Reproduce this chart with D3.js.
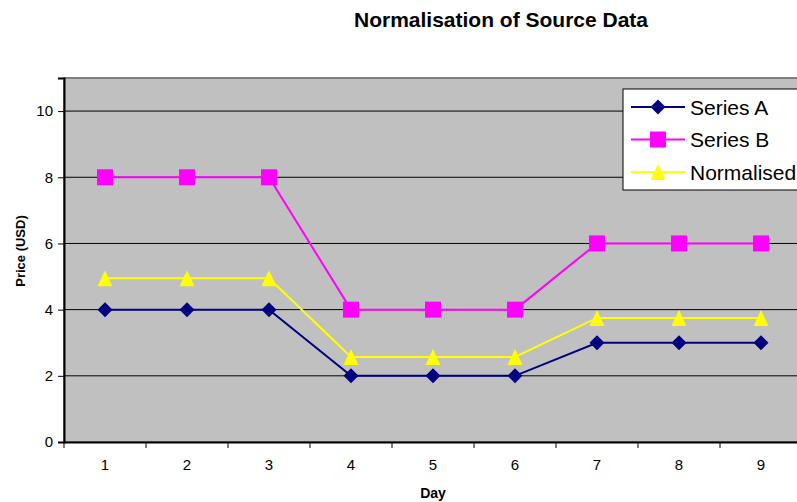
<!DOCTYPE html>
<html>
<head>
<meta charset="utf-8">
<script src="https://cdn.jsdelivr.net/npm/d3@7"></script>
<style>
  body { margin: 0; background: #fff; }
  text { font-family: Arial, "Liberation Sans", sans-serif; }
</style>
</head>
<body>
<script>
// chart data
const days = [1, 2, 3, 4, 5, 6, 7, 8, 9];
const seriesA = [4, 4, 4, 2, 2, 2, 3, 3, 3];
const seriesB = [8, 8, 8, 4, 4, 4, 6, 6, 6];
const normalised = [4.95, 4.95, 4.95, 2.57, 2.57, 2.57, 3.75, 3.75, 3.75];
const yTicks = [0, 2, 4, 6, 8, 10];

const width = 797, height = 502;
const plot = { left: 64, top: 78, right: 802, bottom: 442 };

const svg = d3.select("body").append("svg")
    .attr("width", width)
    .attr("height", height);

const x = d3.scaleBand()
    .domain(days)
    .range([plot.left, plot.right]);

const y = d3.scaleLinear()
    .domain([0, 11])
    .range([plot.bottom, plot.top]);

// plot background
svg.append("rect")
    .attr("x", plot.left)
    .attr("y", plot.top)
    .attr("width", plot.right - plot.left)
    .attr("height", plot.bottom - plot.top)
    .attr("fill", "#c0c0c0")
    .attr("stroke", "#808080")
    .attr("stroke-width", 2);

// gridlines
svg.selectAll(".grid")
    .data(yTicks.filter(d => d > 0))
    .enter().append("line")
    .attr("x1", plot.left)
    .attr("x2", plot.right)
    .attr("y1", d => y(d))
    .attr("y2", d => y(d))
    .attr("stroke", "#000")
    .attr("stroke-width", 1);

// y axis
const yAxis = svg.append("g")
    .attr("transform", `translate(${plot.left},0)`)
    .call(d3.axisLeft(y).tickValues(yTicks).tickSize(6).tickPadding(5));
yAxis.select(".domain").attr("stroke-width", 2);
yAxis.selectAll("text").style("font-size", "15px").attr("fill", "#000");

// x axis: ticks on category boundaries
const xAxis = svg.append("g")
    .attr("transform", `translate(0,${plot.bottom})`)
    .call(d3.axisBottom(x).tickSize(0).tickPadding(17));
xAxis.select(".domain").attr("stroke-width", 2);
xAxis.selectAll("text").style("font-size", "15px").attr("fill", "#000");
xAxis.selectAll(".bound")
    .data(days)
    .enter().append("line")
    .attr("x1", d => x(d))
    .attr("x2", d => x(d))
    .attr("y1", 0)
    .attr("y2", 6)
    .attr("stroke", "#000");

// titles
svg.append("text")
    .attr("x", 501)
    .attr("y", 27)
    .attr("text-anchor", "middle")
    .style("font-size", "21px")
    .style("font-weight", "bold")
    .text("Normalisation of Source Data");

svg.append("text")
    .attr("transform", "translate(25,251) rotate(-90)")
    .attr("text-anchor", "middle")
    .style("font-size", "13px")
    .style("font-weight", "bold")
    .text("Price (USD)");

svg.append("text")
    .attr("x", 433)
    .attr("y", 498)
    .attr("text-anchor", "middle")
    .style("font-size", "14px")
    .style("font-weight", "bold")
    .text("Day");

const cx = d => x(d) + x.bandwidth() / 2;

// marker shapes
const diamond = "M0,-7.5L7.5,0L0,7.5L-7.5,0Z";
const square = "M-8,-8H8V8H-8Z";
const triangle = "M0,-8L7.5,8L-7.5,8Z";

const series = [
    { name: "Series A", values: seriesA, color: "#000080", marker: diamond },
    { name: "Series B", values: seriesB, color: "#ff00ff", marker: square },
    { name: "Normalised", values: normalised, color: "#ffff00", marker: triangle }
];

const line = d3.line()
    .x((d, i) => cx(days[i]))
    .y(d => y(d));

// draw in reverse so Series A sits on top
series.slice().reverse().forEach(s => {
    svg.append("path")
        .datum(s.values)
        .attr("d", line)
        .attr("fill", "none")
        .attr("stroke", s.color)
        .attr("stroke-width", 2);
    svg.selectAll(null)
        .data(s.values)
        .enter().append("path")
        .attr("transform", (d, i) => `translate(${cx(days[i])},${y(d)})`)
        .attr("d", s.marker)
        .attr("fill", s.color);
});

// legend
const legend = svg.append("g");
legend.append("rect")
    .attr("x", 623)
    .attr("y", 89)
    .attr("width", 200)
    .attr("height", 101)
    .attr("fill", "#fff")
    .attr("stroke", "#000")
    .attr("stroke-width", 1);

series.forEach((s, i) => {
    const ly = 107 + i * 32.5;
    legend.append("line")
        .attr("x1", 631).attr("x2", 685)
        .attr("y1", ly).attr("y2", ly)
        .attr("stroke", s.color)
        .attr("stroke-width", 2);
    legend.append("path")
        .attr("transform", `translate(658,${ly})`)
        .attr("d", s.marker)
        .attr("fill", s.color);
    legend.append("text")
        .attr("x", 690)
        .attr("y", ly)
        .attr("dy", "0.36em")
        .style("font-size", "21px")
        .text(s.name);
});
</script>
</body>
</html>
